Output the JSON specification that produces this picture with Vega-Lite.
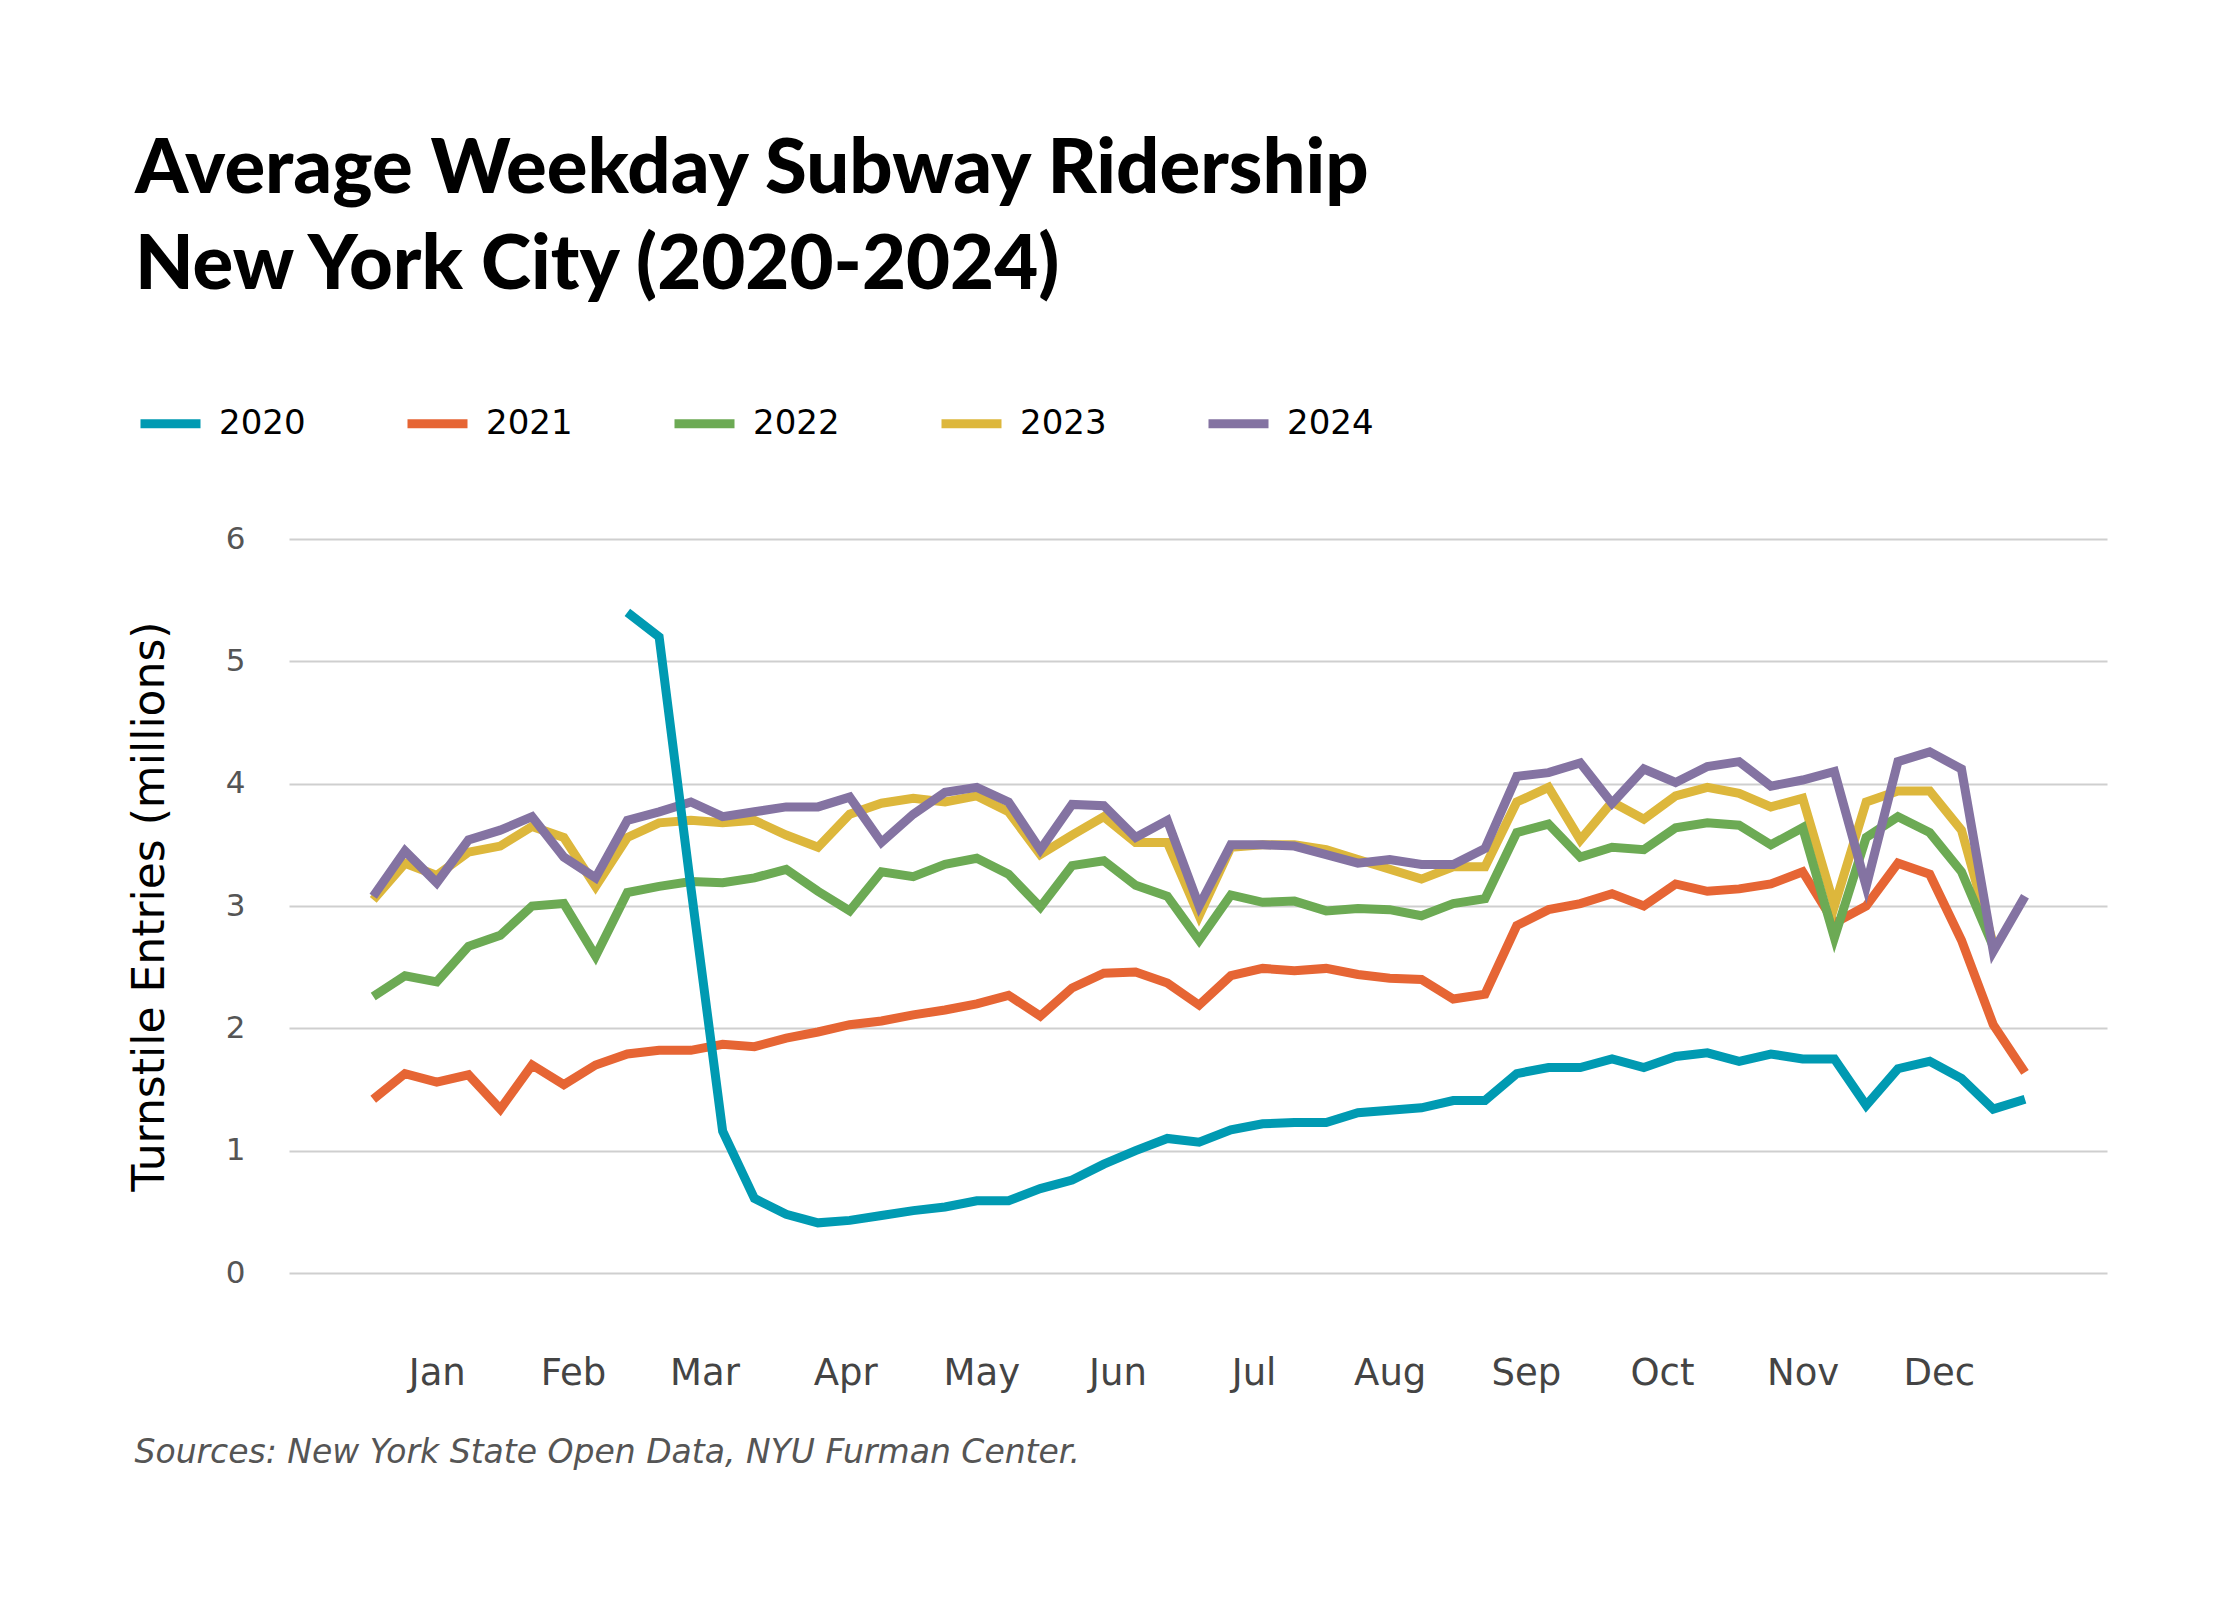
{
  "$schema": "https://vega.github.io/schema/vega-lite/v6.json",
  "width": 1818,
  "height": 734,
  "autosize": {"type": "none"},
  "padding": {"left": 289, "top": 539, "right": 133, "bottom": 327},
  "background": "white",
  "title": {
    "text": ["Average Weekday Subway Ridership", "New York City (2020-2024)"],
    "anchor": "start",
    "frame": "group",
    "dx": -154,
    "baseline": "bottom",
    "offset": 8,
    "font": "Lato",
    "fontSize": 76,
    "fontWeight": 900,
    "color": "#000000",
    "lineHeight": 96
  },
  "config": {"view": {"stroke": null}, "font": "DejaVu Sans"},
  "data": {
    "values": [
      {"date": "2023/01/01", "year": "2021", "value": 1.42},
      {"date": "2023/01/08", "year": "2021", "value": 1.63},
      {"date": "2023/01/15", "year": "2021", "value": 1.56},
      {"date": "2023/01/22", "year": "2021", "value": 1.62},
      {"date": "2023/01/29", "year": "2021", "value": 1.34},
      {"date": "2023/02/05", "year": "2021", "value": 1.70},
      {"date": "2023/02/12", "year": "2021", "value": 1.54},
      {"date": "2023/02/19", "year": "2021", "value": 1.70},
      {"date": "2023/02/26", "year": "2021", "value": 1.79},
      {"date": "2023/03/05", "year": "2021", "value": 1.82},
      {"date": "2023/03/12", "year": "2021", "value": 1.82},
      {"date": "2023/03/19", "year": "2021", "value": 1.87},
      {"date": "2023/03/26", "year": "2021", "value": 1.85},
      {"date": "2023/04/02", "year": "2021", "value": 1.92},
      {"date": "2023/04/09", "year": "2021", "value": 1.97},
      {"date": "2023/04/16", "year": "2021", "value": 2.03},
      {"date": "2023/04/23", "year": "2021", "value": 2.06},
      {"date": "2023/04/30", "year": "2021", "value": 2.11},
      {"date": "2023/05/07", "year": "2021", "value": 2.15},
      {"date": "2023/05/14", "year": "2021", "value": 2.20},
      {"date": "2023/05/21", "year": "2021", "value": 2.27},
      {"date": "2023/05/28", "year": "2021", "value": 2.10},
      {"date": "2023/06/04", "year": "2021", "value": 2.33},
      {"date": "2023/06/11", "year": "2021", "value": 2.45},
      {"date": "2023/06/18", "year": "2021", "value": 2.46},
      {"date": "2023/06/25", "year": "2021", "value": 2.37},
      {"date": "2023/07/02", "year": "2021", "value": 2.19},
      {"date": "2023/07/09", "year": "2021", "value": 2.43},
      {"date": "2023/07/16", "year": "2021", "value": 2.49},
      {"date": "2023/07/23", "year": "2021", "value": 2.47},
      {"date": "2023/07/30", "year": "2021", "value": 2.49},
      {"date": "2023/08/06", "year": "2021", "value": 2.44},
      {"date": "2023/08/13", "year": "2021", "value": 2.41},
      {"date": "2023/08/20", "year": "2021", "value": 2.40},
      {"date": "2023/08/27", "year": "2021", "value": 2.24},
      {"date": "2023/09/03", "year": "2021", "value": 2.28},
      {"date": "2023/09/10", "year": "2021", "value": 2.84},
      {"date": "2023/09/17", "year": "2021", "value": 2.97},
      {"date": "2023/09/24", "year": "2021", "value": 3.02},
      {"date": "2023/10/01", "year": "2021", "value": 3.10},
      {"date": "2023/10/08", "year": "2021", "value": 3.00},
      {"date": "2023/10/15", "year": "2021", "value": 3.18},
      {"date": "2023/10/22", "year": "2021", "value": 3.12},
      {"date": "2023/10/29", "year": "2021", "value": 3.14},
      {"date": "2023/11/05", "year": "2021", "value": 3.18},
      {"date": "2023/11/12", "year": "2021", "value": 3.28},
      {"date": "2023/11/19", "year": "2021", "value": 2.86},
      {"date": "2023/11/26", "year": "2021", "value": 3.00},
      {"date": "2023/12/03", "year": "2021", "value": 3.35},
      {"date": "2023/12/10", "year": "2021", "value": 3.26},
      {"date": "2023/12/17", "year": "2021", "value": 2.72},
      {"date": "2023/12/24", "year": "2021", "value": 2.03},
      {"date": "2023/12/31", "year": "2021", "value": 1.64},

      {"date": "2023/01/01", "year": "2023", "value": 3.05},
      {"date": "2023/01/08", "year": "2023", "value": 3.35},
      {"date": "2023/01/15", "year": "2023", "value": 3.25},
      {"date": "2023/01/22", "year": "2023", "value": 3.44},
      {"date": "2023/01/29", "year": "2023", "value": 3.49},
      {"date": "2023/02/05", "year": "2023", "value": 3.65},
      {"date": "2023/02/12", "year": "2023", "value": 3.56},
      {"date": "2023/02/19", "year": "2023", "value": 3.16},
      {"date": "2023/02/26", "year": "2023", "value": 3.56},
      {"date": "2023/03/05", "year": "2023", "value": 3.68},
      {"date": "2023/03/12", "year": "2023", "value": 3.70},
      {"date": "2023/03/19", "year": "2023", "value": 3.68},
      {"date": "2023/03/26", "year": "2023", "value": 3.70},
      {"date": "2023/04/02", "year": "2023", "value": 3.58},
      {"date": "2023/04/09", "year": "2023", "value": 3.48},
      {"date": "2023/04/16", "year": "2023", "value": 3.75},
      {"date": "2023/04/23", "year": "2023", "value": 3.84},
      {"date": "2023/04/30", "year": "2023", "value": 3.88},
      {"date": "2023/05/07", "year": "2023", "value": 3.85},
      {"date": "2023/05/14", "year": "2023", "value": 3.90},
      {"date": "2023/05/21", "year": "2023", "value": 3.77},
      {"date": "2023/05/28", "year": "2023", "value": 3.42},
      {"date": "2023/06/04", "year": "2023", "value": 3.58},
      {"date": "2023/06/11", "year": "2023", "value": 3.73},
      {"date": "2023/06/18", "year": "2023", "value": 3.52},
      {"date": "2023/06/25", "year": "2023", "value": 3.52},
      {"date": "2023/07/02", "year": "2023", "value": 2.92},
      {"date": "2023/07/09", "year": "2023", "value": 3.48},
      {"date": "2023/07/16", "year": "2023", "value": 3.50},
      {"date": "2023/07/23", "year": "2023", "value": 3.50},
      {"date": "2023/07/30", "year": "2023", "value": 3.46},
      {"date": "2023/08/06", "year": "2023", "value": 3.38},
      {"date": "2023/08/13", "year": "2023", "value": 3.30},
      {"date": "2023/08/20", "year": "2023", "value": 3.22},
      {"date": "2023/08/27", "year": "2023", "value": 3.32},
      {"date": "2023/09/03", "year": "2023", "value": 3.32},
      {"date": "2023/09/10", "year": "2023", "value": 3.85},
      {"date": "2023/09/17", "year": "2023", "value": 3.97},
      {"date": "2023/09/24", "year": "2023", "value": 3.54},
      {"date": "2023/10/01", "year": "2023", "value": 3.85},
      {"date": "2023/10/08", "year": "2023", "value": 3.71},
      {"date": "2023/10/15", "year": "2023", "value": 3.90},
      {"date": "2023/10/22", "year": "2023", "value": 3.97},
      {"date": "2023/10/29", "year": "2023", "value": 3.92},
      {"date": "2023/11/05", "year": "2023", "value": 3.81},
      {"date": "2023/11/12", "year": "2023", "value": 3.88},
      {"date": "2023/11/19", "year": "2023", "value": 3.00},
      {"date": "2023/11/26", "year": "2023", "value": 3.85},
      {"date": "2023/12/03", "year": "2023", "value": 3.94},
      {"date": "2023/12/10", "year": "2023", "value": 3.94},
      {"date": "2023/12/17", "year": "2023", "value": 3.62},
      {"date": "2023/12/24", "year": "2023", "value": 2.69},

      {"date": "2023/01/01", "year": "2022", "value": 2.26},
      {"date": "2023/01/08", "year": "2022", "value": 2.43},
      {"date": "2023/01/15", "year": "2022", "value": 2.38},
      {"date": "2023/01/22", "year": "2022", "value": 2.67},
      {"date": "2023/01/29", "year": "2022", "value": 2.76},
      {"date": "2023/02/05", "year": "2022", "value": 3.00},
      {"date": "2023/02/12", "year": "2022", "value": 3.02},
      {"date": "2023/02/19", "year": "2022", "value": 2.59},
      {"date": "2023/02/26", "year": "2022", "value": 3.11},
      {"date": "2023/03/05", "year": "2022", "value": 3.16},
      {"date": "2023/03/12", "year": "2022", "value": 3.20},
      {"date": "2023/03/19", "year": "2022", "value": 3.19},
      {"date": "2023/03/26", "year": "2022", "value": 3.23},
      {"date": "2023/04/02", "year": "2022", "value": 3.30},
      {"date": "2023/04/09", "year": "2022", "value": 3.12},
      {"date": "2023/04/16", "year": "2022", "value": 2.96},
      {"date": "2023/04/23", "year": "2022", "value": 3.28},
      {"date": "2023/04/30", "year": "2022", "value": 3.24},
      {"date": "2023/05/07", "year": "2022", "value": 3.34},
      {"date": "2023/05/14", "year": "2022", "value": 3.39},
      {"date": "2023/05/21", "year": "2022", "value": 3.26},
      {"date": "2023/05/28", "year": "2022", "value": 2.99},
      {"date": "2023/06/04", "year": "2022", "value": 3.33},
      {"date": "2023/06/11", "year": "2022", "value": 3.37},
      {"date": "2023/06/18", "year": "2022", "value": 3.17},
      {"date": "2023/06/25", "year": "2022", "value": 3.08},
      {"date": "2023/07/02", "year": "2022", "value": 2.72},
      {"date": "2023/07/09", "year": "2022", "value": 3.09},
      {"date": "2023/07/16", "year": "2022", "value": 3.03},
      {"date": "2023/07/23", "year": "2022", "value": 3.04},
      {"date": "2023/07/30", "year": "2022", "value": 2.96},
      {"date": "2023/08/06", "year": "2022", "value": 2.98},
      {"date": "2023/08/13", "year": "2022", "value": 2.97},
      {"date": "2023/08/20", "year": "2022", "value": 2.92},
      {"date": "2023/08/27", "year": "2022", "value": 3.02},
      {"date": "2023/09/03", "year": "2022", "value": 3.06},
      {"date": "2023/09/10", "year": "2022", "value": 3.60},
      {"date": "2023/09/17", "year": "2022", "value": 3.67},
      {"date": "2023/09/24", "year": "2022", "value": 3.40},
      {"date": "2023/10/01", "year": "2022", "value": 3.48},
      {"date": "2023/10/08", "year": "2022", "value": 3.46},
      {"date": "2023/10/15", "year": "2022", "value": 3.64},
      {"date": "2023/10/22", "year": "2022", "value": 3.68},
      {"date": "2023/10/29", "year": "2022", "value": 3.66},
      {"date": "2023/11/05", "year": "2022", "value": 3.50},
      {"date": "2023/11/12", "year": "2022", "value": 3.64},
      {"date": "2023/11/19", "year": "2022", "value": 2.74},
      {"date": "2023/11/26", "year": "2022", "value": 3.56},
      {"date": "2023/12/03", "year": "2022", "value": 3.73},
      {"date": "2023/12/10", "year": "2022", "value": 3.60},
      {"date": "2023/12/17", "year": "2022", "value": 3.28},
      {"date": "2023/12/24", "year": "2022", "value": 2.67},

      {"date": "2023/01/01", "year": "2024", "value": 3.08},
      {"date": "2023/01/08", "year": "2024", "value": 3.45},
      {"date": "2023/01/15", "year": "2024", "value": 3.19},
      {"date": "2023/01/22", "year": "2024", "value": 3.54},
      {"date": "2023/01/29", "year": "2024", "value": 3.62},
      {"date": "2023/02/05", "year": "2024", "value": 3.73},
      {"date": "2023/02/12", "year": "2024", "value": 3.40},
      {"date": "2023/02/19", "year": "2024", "value": 3.23},
      {"date": "2023/02/26", "year": "2024", "value": 3.70},
      {"date": "2023/03/05", "year": "2024", "value": 3.77},
      {"date": "2023/03/12", "year": "2024", "value": 3.85},
      {"date": "2023/03/19", "year": "2024", "value": 3.73},
      {"date": "2023/03/26", "year": "2024", "value": 3.77},
      {"date": "2023/04/02", "year": "2024", "value": 3.81},
      {"date": "2023/04/09", "year": "2024", "value": 3.81},
      {"date": "2023/04/16", "year": "2024", "value": 3.89},
      {"date": "2023/04/23", "year": "2024", "value": 3.52},
      {"date": "2023/04/30", "year": "2024", "value": 3.75},
      {"date": "2023/05/07", "year": "2024", "value": 3.93},
      {"date": "2023/05/14", "year": "2024", "value": 3.97},
      {"date": "2023/05/21", "year": "2024", "value": 3.85},
      {"date": "2023/05/28", "year": "2024", "value": 3.46},
      {"date": "2023/06/04", "year": "2024", "value": 3.83},
      {"date": "2023/06/11", "year": "2024", "value": 3.82},
      {"date": "2023/06/18", "year": "2024", "value": 3.56},
      {"date": "2023/06/25", "year": "2024", "value": 3.70},
      {"date": "2023/07/02", "year": "2024", "value": 3.00},
      {"date": "2023/07/09", "year": "2024", "value": 3.50},
      {"date": "2023/07/16", "year": "2024", "value": 3.50},
      {"date": "2023/07/23", "year": "2024", "value": 3.49},
      {"date": "2023/07/30", "year": "2024", "value": 3.42},
      {"date": "2023/08/06", "year": "2024", "value": 3.35},
      {"date": "2023/08/13", "year": "2024", "value": 3.38},
      {"date": "2023/08/20", "year": "2024", "value": 3.34},
      {"date": "2023/08/27", "year": "2024", "value": 3.34},
      {"date": "2023/09/03", "year": "2024", "value": 3.47},
      {"date": "2023/09/10", "year": "2024", "value": 4.06},
      {"date": "2023/09/17", "year": "2024", "value": 4.09},
      {"date": "2023/09/24", "year": "2024", "value": 4.17},
      {"date": "2023/10/01", "year": "2024", "value": 3.84},
      {"date": "2023/10/08", "year": "2024", "value": 4.12},
      {"date": "2023/10/15", "year": "2024", "value": 4.01},
      {"date": "2023/10/22", "year": "2024", "value": 4.14},
      {"date": "2023/10/29", "year": "2024", "value": 4.18},
      {"date": "2023/11/05", "year": "2024", "value": 3.98},
      {"date": "2023/11/12", "year": "2024", "value": 4.03},
      {"date": "2023/11/19", "year": "2024", "value": 4.10},
      {"date": "2023/11/26", "year": "2024", "value": 3.16},
      {"date": "2023/12/03", "year": "2024", "value": 4.18},
      {"date": "2023/12/10", "year": "2024", "value": 4.26},
      {"date": "2023/12/17", "year": "2024", "value": 4.12},
      {"date": "2023/12/24", "year": "2024", "value": 2.63},
      {"date": "2023/12/31", "year": "2024", "value": 3.08},

      {"date": "2023/02/26", "year": "2020", "value": 5.40},
      {"date": "2023/03/05", "year": "2020", "value": 5.20},
      {"date": "2023/03/12", "year": "2020", "value": 3.15},
      {"date": "2023/03/19", "year": "2020", "value": 1.16},
      {"date": "2023/03/26", "year": "2020", "value": 0.61},
      {"date": "2023/04/02", "year": "2020", "value": 0.48},
      {"date": "2023/04/09", "year": "2020", "value": 0.41},
      {"date": "2023/04/16", "year": "2020", "value": 0.43},
      {"date": "2023/04/23", "year": "2020", "value": 0.47},
      {"date": "2023/04/30", "year": "2020", "value": 0.51},
      {"date": "2023/05/07", "year": "2020", "value": 0.54},
      {"date": "2023/05/14", "year": "2020", "value": 0.59},
      {"date": "2023/05/21", "year": "2020", "value": 0.59},
      {"date": "2023/05/28", "year": "2020", "value": 0.69},
      {"date": "2023/06/04", "year": "2020", "value": 0.76},
      {"date": "2023/06/11", "year": "2020", "value": 0.89},
      {"date": "2023/06/18", "year": "2020", "value": 1.00},
      {"date": "2023/06/25", "year": "2020", "value": 1.10},
      {"date": "2023/07/02", "year": "2020", "value": 1.07},
      {"date": "2023/07/09", "year": "2020", "value": 1.17},
      {"date": "2023/07/16", "year": "2020", "value": 1.22},
      {"date": "2023/07/23", "year": "2020", "value": 1.23},
      {"date": "2023/07/30", "year": "2020", "value": 1.23},
      {"date": "2023/08/06", "year": "2020", "value": 1.31},
      {"date": "2023/08/13", "year": "2020", "value": 1.33},
      {"date": "2023/08/20", "year": "2020", "value": 1.35},
      {"date": "2023/08/27", "year": "2020", "value": 1.41},
      {"date": "2023/09/03", "year": "2020", "value": 1.41},
      {"date": "2023/09/10", "year": "2020", "value": 1.63},
      {"date": "2023/09/17", "year": "2020", "value": 1.68},
      {"date": "2023/09/24", "year": "2020", "value": 1.68},
      {"date": "2023/10/01", "year": "2020", "value": 1.75},
      {"date": "2023/10/08", "year": "2020", "value": 1.68},
      {"date": "2023/10/15", "year": "2020", "value": 1.77},
      {"date": "2023/10/22", "year": "2020", "value": 1.80},
      {"date": "2023/10/29", "year": "2020", "value": 1.73},
      {"date": "2023/11/05", "year": "2020", "value": 1.79},
      {"date": "2023/11/12", "year": "2020", "value": 1.75},
      {"date": "2023/11/19", "year": "2020", "value": 1.75},
      {"date": "2023/11/26", "year": "2020", "value": 1.37},
      {"date": "2023/12/03", "year": "2020", "value": 1.67},
      {"date": "2023/12/10", "year": "2020", "value": 1.73},
      {"date": "2023/12/17", "year": "2020", "value": 1.59},
      {"date": "2023/12/24", "year": "2020", "value": 1.34},
      {"date": "2023/12/31", "year": "2020", "value": 1.42}
    ]
  },
  "mark": {"type": "line", "strokeWidth": 9},
  "encoding": {
    "x": {
      "field": "date",
      "type": "temporal",
      "scale": {"domain": [{"year": 2022, "month": 12, "date": 13, "hours": 10, "minutes": 30}, {"year": 2024, "month": 1, "date": 18, "hours": 1, "minutes": 40}]},
      "axis": {
        "values": [
          {"year": 2023, "month": 1, "date": 15},
          {"year": 2023, "month": 2, "date": 14},
          {"year": 2023, "month": 3, "date": 15},
          {"year": 2023, "month": 4, "date": 15},
          {"year": 2023, "month": 5, "date": 15},
          {"year": 2023, "month": 6, "date": 14},
          {"year": 2023, "month": 7, "date": 14},
          {"year": 2023, "month": 8, "date": 13},
          {"year": 2023, "month": 9, "date": 12},
          {"year": 2023, "month": 10, "date": 12},
          {"year": 2023, "month": 11, "date": 12},
          {"year": 2023, "month": 12, "date": 12}
        ],
        "format": "%b",
        "grid": false,
        "domain": false,
        "ticks": false,
        "tickSize": 0,
        "labelFont": "DejaVu Sans",
        "labelFontSize": 37,
        "labelColor": "#444444",
        "labelBaseline": "alphabetic",
        "labelPadding": 111,
        "title": "Sources: New York State Open Data, NYU Furman Center.",
        "titleX": -155,
        "titleY": 189,
        "titleAlign": "left",
        "titleAnchor": "start",
        "titleBaseline": "alphabetic",
        "titleFont": "DejaVu Sans",
        "titleFontSize": 33,
        "titleFontStyle": "italic",
        "titleFontWeight": "normal",
        "titleColor": "#555555"
      }
    },
    "y": {
      "field": "value",
      "type": "quantitative",
      "scale": {"domain": [0, 6]},
      "axis": {
        "values": [0, 1, 2, 3, 4, 5, 6],
        "grid": true,
        "gridColor": "#cfcfcf",
        "gridWidth": 2,
        "domain": false,
        "ticks": false,
        "tickSize": 0,
        "labelFont": "DejaVu Sans",
        "labelFontSize": 31,
        "labelColor": "#555555",
        "labelPadding": 44,
        "title": "Turnstile Entries (millions)",
        "titleX": -126,
        "titleY": 367,
        "titleAngle": -90,
        "titleAlign": "center",
        "titleBaseline": "alphabetic",
        "titleFont": "DejaVu Sans",
        "titleFontSize": 44,
        "titleFontWeight": "normal",
        "titleColor": "#000000"
      }
    },
    "color": {
      "field": "year",
      "type": "nominal",
      "scale": {
        "domain": ["2020", "2021", "2022", "2023", "2024"],
        "range": ["#009AB2", "#E66534", "#6CAA54", "#DDB73C", "#8473A2"]
      },
      "legend": {
        "orient": "none",
        "direction": "horizontal",
        "legendX": -153,
        "legendY": -150,
        "title": null,
        "symbolType": "stroke",
        "symbolSize": 3600,
        "symbolStrokeWidth": 9,
        "labelFont": "DejaVu Sans",
        "labelFontSize": 34,
        "labelColor": "#000000",
        "labelOffset": 14,
        "columnPadding": 83
      }
    }
  }
}
